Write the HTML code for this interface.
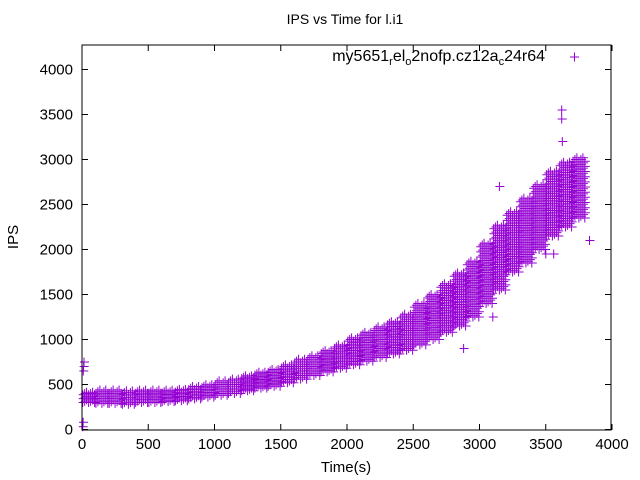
<!DOCTYPE html>
<html><head><meta charset="utf-8"><style>
body{margin:0;background:#fff}
svg{display:block;font-family:"Liberation Sans",sans-serif}
</style></head><body>
<svg id="chart" width="640" height="480">
<rect x="0" y="0" width="640" height="480" fill="#fff"/>
<text x="345" y="24" font-size="14" text-anchor="middle">IPS vs Time for l.i1</text>
<text x="0" y="0" font-size="15" text-anchor="middle" transform="translate(18,237) rotate(-90)">IPS</text>
<text x="346" y="472" font-size="15" text-anchor="middle">Time(s)</text>
<g id="ticks"></g>
<g id="points"></g>
<rect x="82" y="45" width="529" height="385" fill="none" stroke="#000" stroke-width="1"/>
<g>
<text x="545" y="61" font-size="16" text-anchor="end">my5651<tspan font-size="11" dy="4">r</tspan><tspan dy="-4">el</tspan><tspan font-size="11" dy="4">o</tspan><tspan dy="-4">2nofp.cz12a</tspan><tspan font-size="11" dy="4">c</tspan><tspan dy="-4">24r64</tspan></text>
<path d="M570 57h9M574.5 52.5v9" stroke="#9400d3" stroke-width="1"/>
</g>
</svg>
<script>
const binTimes=[50,150,250,350,450,550,650,750,850,950,1050,1150,1250,1350,1450,1550,1650,1750,1850,1950,2050,2150,2250,2350,2450,2550,2650,2750,2850,2950,3050,3150,3250,3350,3450,3550,3650,3750];
const binLow=[300,290,290,280,300,300,310,320,340,360,380,400,430,460,480,520,560,600,640,680,720,760,800,840,880,940,1000,1080,1150,1250,1400,1550,1750,1850,2000,2150,2250,2350];
const binHigh=[400,420,420,410,420,420,420,430,460,480,520,540,580,620,650,700,760,800,860,920,1000,1060,1120,1180,1260,1380,1480,1600,1720,1850,2050,2250,2400,2550,2700,2850,2950,3000];
const outlierTimes=[5,8,10,12,15,3620,3620,3625,3150,2880,3100,3830,3500,3560];
const outlierValues=[30,80,650,700,750,3550,3450,3200,2700,900,1250,2100,1950,1950];
const xTicks=[0,500,1000,1500,2000,2500,3000,3500,4000];
const yTicks=[0,500,1000,1500,2000,2500,3000,3500,4000];
const xs=t=>82+t*0.1325;
const ys=v=>429.5-v*0.09;
const NS="http://www.w3.org/2000/svg";
const tg=document.getElementById('ticks');
xTicks.forEach(t=>{
  const l=document.createElementNS(NS,'path');
  l.setAttribute('d',`M${xs(t)} 430v-6M${xs(t)} 45v6`);l.setAttribute('stroke','#000');
  
  
  tg.appendChild(l);
  const tx=document.createElementNS(NS,'text');
  tx.setAttribute('x',xs(t));tx.setAttribute('y',449);tx.setAttribute('font-size','15');tx.setAttribute('text-anchor','middle');
  tx.textContent=t;
  
  
  tg.appendChild(tx);
});
yTicks.forEach(v=>{
  const l=document.createElementNS(NS,'path');
  l.setAttribute('d',`M82 ${ys(v)}h6M611 ${ys(v)}h-6`);l.setAttribute('stroke','#000');
  
  
  tg.appendChild(l);
  const tx=document.createElementNS(NS,'text');
  tx.setAttribute('x',73);tx.setAttribute('y',ys(v)+5);tx.setAttribute('font-size','15');tx.setAttribute('text-anchor','end');
  tx.textContent=v;
  
  
  tg.appendChild(tx);
});
const pg=document.getElementById('points');
function plus(t,v){return `M${(xs(t)-4).toFixed(1)} ${ys(v).toFixed(1)}h9M${xs(t).toFixed(1)} ${(ys(v)-4.5).toFixed(1)}v9`;}
binTimes.forEach((c,i)=>{
  let d='';
  const lo=binLow[i],hi=binHigh[i],span=hi-lo;
  const n=Math.max(2,Math.round(span/60));
  for(let k=0;k<7;k++){
    const t=c-45+k*15;
    for(let j=0;j<=n;j++){
      const v=lo+span*((j+(k%3)/3)/(n+0.33));
      d+=plus(t,v);
    }
  }
  const p=document.createElementNS(NS,'path');
  p.setAttribute('d',d);p.setAttribute('stroke','#9400d3');p.setAttribute('stroke-width','1');p.setAttribute('fill','none');
  
  
  pg.appendChild(p);
});
outlierTimes.forEach((t,i)=>{
  const p=document.createElementNS(NS,'path');
  p.setAttribute('d',plus(t,outlierValues[i]));p.setAttribute('stroke','#9400d3');p.setAttribute('fill','none');
  
  
  pg.appendChild(p);
});
</script>
</body></html>
